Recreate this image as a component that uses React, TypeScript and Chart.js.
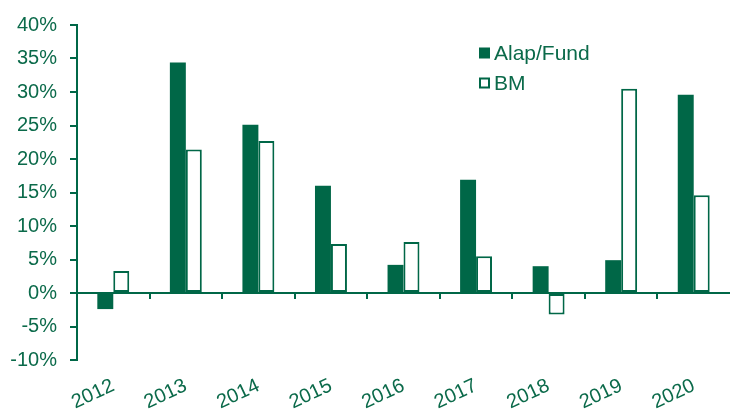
import React, { useEffect, useRef } from "react";
import { Chart, registerables } from "chart.js";

Chart.register(...registerables);

const categories = ["2012", "2013", "2014", "2015", "2016", "2017", "2018", "2019", "2020"];
const fundValues = [-2.4, 34.4, 25.1, 16.0, 4.2, 16.9, 4.0, 4.9, 29.6];
const bmValues = [3.3, 21.4, 22.7, 7.3, 7.6, 5.5, -3.2, 30.5, 14.6];
const seriesNames = ["Alap/Fund", "BM"];
const yMin = -10;
const yMax = 40;
const yStep = 5;

const GREEN = "#006747";
const TEXT = "#0b6a4a";
const FONT = "'Liberation Sans', Arial, sans-serif";

const axisPlugin = {
  id: "zeroAxis",
  afterDatasetsDraw(chart: any) {
    const { ctx, chartArea, scales } = chart;
    const x = scales.x;
    const y = scales.y;
    const y0 = y.getPixelForValue(0);
    ctx.save();
    ctx.strokeStyle = GREEN;
    ctx.lineWidth = 2;
    ctx.beginPath();
    ctx.moveTo(chartArea.left, y0);
    ctx.lineTo(chartArea.right, y0);
    ctx.stroke();
    for (let i = 1; i < categories.length; i++) {
      const xb = (x.getPixelForValue(i - 1) + x.getPixelForValue(i)) / 2;
      ctx.beginPath();
      ctx.moveTo(Math.round(xb), y0);
      ctx.lineTo(Math.round(xb), y0 + 6);
      ctx.stroke();
    }
    ctx.restore();
  },
};

const legendPlugin = {
  id: "customLegend",
  afterDraw(chart: any) {
    const { ctx } = chart;
    const x0 = 479;
    const rows = [53, 83];
    ctx.save();
    ctx.font = `21px ${FONT}`;
    ctx.textBaseline = "middle";
    ctx.fillStyle = TEXT;
    chart.data.datasets.forEach((ds: any, i: number) => {
      const cy = rows[i];
      if (i === 0) {
        ctx.fillStyle = GREEN;
        ctx.fillRect(x0, cy - 5.5, 11, 11);
      } else {
        ctx.fillStyle = "#fff";
        ctx.fillRect(x0, cy - 5.5, 11, 11);
        ctx.strokeStyle = GREEN;
        ctx.lineWidth = 2;
        ctx.strokeRect(x0 + 1, cy - 4.5, 9, 9);
      }
      ctx.fillStyle = TEXT;
      ctx.fillText(ds.label, x0 + 15, cy + 1);
    });
    ctx.restore();
  },
};

export default function App() {
  const ref = useRef<HTMLCanvasElement | null>(null);

  useEffect(() => {
    document.body.style.margin = "0";
    if (!ref.current) return;
    const chart = new Chart(ref.current, {
      type: "bar",
      data: {
        labels: categories,
        datasets: [
          {
            label: seriesNames[0],
            data: fundValues,
            backgroundColor: GREEN,
            borderWidth: 0,
            barPercentage: 1,
            categoryPercentage: 0.44,
          },
          {
            label: seriesNames[1],
            data: bmValues,
            backgroundColor: "#ffffff",
            borderColor: GREEN,
            borderWidth: 2,
            borderSkipped: false,
            barPercentage: 1,
            categoryPercentage: 0.44,
          },
        ],
      },
      options: {
        animation: false,
        responsive: false,
        maintainAspectRatio: false,
        layout: { padding: { left: 0, right: 0, top: 14, bottom: 0 } },
        plugins: {
          legend: { display: false },
          tooltip: { enabled: false },
        },
        scales: {
          x: {
            afterFit: (s: any) => {
              s.height = 52;
            },
            grid: { display: false, drawTicks: false },
            border: { display: false },
            ticks: {
              color: TEXT,
              font: { family: FONT, size: 20 },
              minRotation: 25,
              maxRotation: 25,
              padding: 14,
              autoSkip: false,
            },
          },
          y: {
            min: yMin,
            max: yMax,
            afterFit: (s: any) => {
              s.width = 77;
            },
            grid: {
              drawOnChartArea: false,
              drawTicks: true,
              tickLength: 7,
              color: GREEN,
              lineWidth: 2,
            },
            border: { display: true, color: GREEN, width: 2 },
            ticks: {
              stepSize: yStep,
              color: TEXT,
              padding: 13,
              font: { family: FONT, size: 20 },
              callback: (v: any) => `${v}%`,
            },
          },
        },
      },
      plugins: [axisPlugin, legendPlugin],
    });
    return () => chart.destroy();
  }, []);

  return (
    <div style={{ width: 730, height: 412, background: "#fff" }}>
      <canvas ref={ref} width={730} height={412} style={{ display: "block" }} />
    </div>
  );
}
